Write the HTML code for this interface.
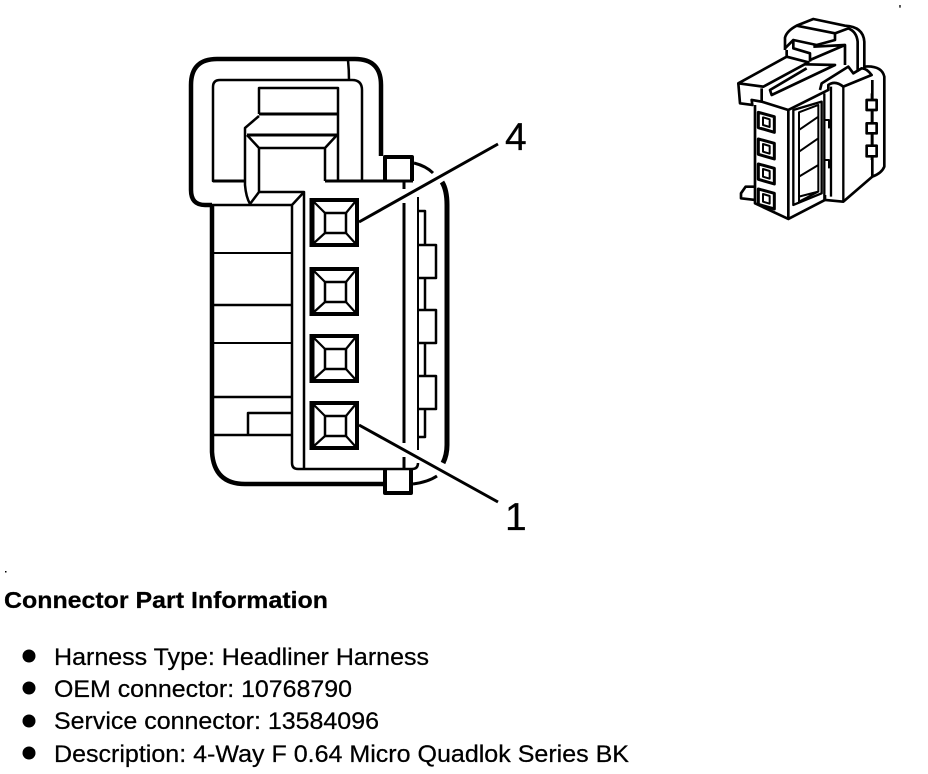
<!DOCTYPE html>
<html><head><meta charset="utf-8"><style>
html,body{margin:0;padding:0;background:#fff;width:928px;height:774px;overflow:hidden}
svg{display:block}
text{font-family:"Liberation Sans",sans-serif;fill:#000;stroke:#000;stroke-width:.25px}
</style></head><body>
<svg width="928" height="774" viewBox="0 0 928 774" xmlns="http://www.w3.org/2000/svg">
<defs>
<g id="t">
<rect x="312" y="2" width="45" height="45" fill="#fff" stroke="#000" stroke-width="4"/>
<path d="M312,0 V49" stroke="#000" stroke-width="5" fill="none"/>
<rect x="325" y="15" width="21" height="20" fill="none" stroke="#000" stroke-width="2.5"/>
<path d="M314,4 L325,15 M355,4 L346,15 M314,45 L325,35 M355,45 L346,35" stroke="#000" stroke-width="2.2" fill="none"/>
</g>
</defs>
<g fill="none" stroke="#000" stroke-linejoin="round">
<path d="M212,205 H205 Q191,205 191,190 V85 Q191,59 217,59 H355 Q381,59 381,85 V156" stroke-width="4.5"/>
<path d="M348,60 Q349,70 349,80" stroke-width="2.5"/>
<path d="M245,181 H213 V87 Q213,80 220,80 H352 Q362,80 362,90 V181" stroke-width="2.5"/>
<path d="M213,181 H245" stroke-width="3"/>
<path d="M259,114 V88 H338 V181" stroke-width="2.5"/>
<path d="M259,114 H338" stroke-width="3"/>
<path d="M259,116 L245,128 V185 Q246,197 250,204 L259,192 V148 H325 V181 M325,148 L337,135 M259,148 L247,135" stroke-width="2.5"/>
<path d="M247,135 H337" stroke-width="3"/>
<path d="M325,181 H413" stroke-width="3"/>
<path d="M259,192 H304 V468" stroke-width="2.5"/>
<path d="M304,192 L292,205 V463 Q292,469 298,469 H412 Q418,469 418,463" stroke-width="2.5"/>
<path d="M212,205 H292" stroke-width="2.5"/>
<path d="M212,205 V452 Q214,484 245,484 H385" stroke-width="4.5"/>
<path d="M212,253 H291" stroke-width="2"/>
<path d="M212,305 H291" stroke-width="2.5"/>
<path d="M212,343 H291" stroke-width="2"/>
<path d="M212,397 H291" stroke-width="2.5"/>
<path d="M212,435 H248 V413 H291 M248,435 H291" stroke-width="2.5"/>
<path d="M404,182 V189 M404,203 V443 M404,457 V468" stroke-width="3"/>
<path d="M418,197 V450" stroke-width="2"/>
<path d="M418,211 H425 V245 M418,245 H436 V278 H418 M425,278 V310 M418,310 H436 V343 H418 M425,343 V376 M418,376 H436 V409 H418 M425,409 V437 H418" stroke-width="2.5"/>
<path d="M414,163 Q426,166 433,173" stroke-width="3"/>
<path d="M442,182 Q447,190 447,205 V445 Q447,455 443,463" stroke-width="5"/>
<path d="M413,484 Q428,482 437,476" stroke-width="3"/>
<path d="M385,181 V157 H412 V181" stroke-width="4"/>
<path d="M385,468 V493 H411 V470" stroke-width="4"/>
</g>
<use href="#t" y="198"/>
<use href="#t" y="267"/>
<use href="#t" y="334"/>
<use href="#t" y="401"/>
<path d="M359,222 L498,144 M359,425 L498,502" stroke="#000" stroke-width="3" fill="none"/>
<text x="505" y="150" font-size="39">4</text>
<text x="505" y="530" font-size="39">1</text>
<g transform="translate(725,5) scale(.3333)" fill="none" stroke="#000" stroke-width="8" stroke-linejoin="round">
<path d="M525,0 V8" stroke-width="4"/>
<path d="M180,135 V98 Q185,78 215,62 L265,42 L360,62 Q415,65 418,110 V195"/>
<path d="M215,62 L330,85 V105 L275,120 L205,105 L180,130"/>
<path d="M330,85 L370,70 Q395,80 398,110 V200"/>
<path d="M205,105 V130 L255,145 V170 M265,125 L360,120 L255,165 M360,120 V180"/>
<path d="M40,235 L185,155 L250,172 L115,245 Z"/>
<path d="M185,135 V155 M240,178 L330,180 L140,270 L135,255 L245,190"/>
<path d="M40,235 L45,295 L82,300 L80,285 L110,290 V250"/>
<path d="M110,290 L190,315 L310,255 V240 Q330,225 355,245 L440,210 Q425,190 410,190 L385,205 L370,185 L290,235 L285,255"/>
<path d="M90,300 V595 L190,642 V315"/>
<path d="M190,642 L300,585 V570 M300,585 L355,590 L442,515"/>
<path d="M205,315 V600 L290,565 V290 Z" stroke-width="7"/>
<path d="M222,322 L280,300 V560 L222,590 Z M222,375 L280,335 M222,440 L280,400 M222,515 L280,480 M222,575 L280,560" stroke-width="6"/>
<path d="M298,265 V585 M318,245 V575 M355,245 V590" stroke-width="7"/>
<path d="M298,345 H312 V370 M298,465 H312 V490" stroke-width="6"/>
<path d="M415,185 Q470,180 478,215 V485 Q470,505 442,515 V225"/>
<path d="M440,265 V465" stroke-width="6"/>
<rect x="425" y="285" width="30" height="30" fill="#fff"/>
<rect x="425" y="355" width="30" height="30" fill="#fff"/>
<rect x="425" y="422" width="30" height="32" fill="#fff"/>
<g stroke-width="9">
<path d="M100,322 L148,335 V382 L100,368 Z M100,402 L148,415 V462 L100,448 Z M100,477 L148,490 V537 L100,523 Z M100,552 L148,565 V612 L100,598 Z"/>
</g>
<g stroke-width="6">
<path d="M114,337 L134,343 V366 L114,360 Z M114,417 L134,423 V446 L114,440 Z M114,492 L134,498 V521 L114,515 Z M114,567 L134,573 V596 L114,590 Z"/>
</g>
<path d="M90,545 L62,545 L48,565 V580 L90,585"/>
</g>
<text x="4" y="608" font-size="23" font-weight="700" textLength="324" lengthAdjust="spacingAndGlyphs">Connector Part Information</text>
<circle cx="29" cy="656" r="6.5"/><circle cx="29" cy="688" r="6.5"/><circle cx="29" cy="721" r="6.5"/><circle cx="29" cy="753" r="6.5"/>
<text x="54" y="665" font-size="24" textLength="375" lengthAdjust="spacingAndGlyphs">Harness Type: Headliner Harness</text>
<text x="54" y="697" font-size="24" textLength="298" lengthAdjust="spacingAndGlyphs">OEM connector: 10768790</text>
<text x="54" y="729" font-size="24" textLength="325" lengthAdjust="spacingAndGlyphs">Service connector: 13584096</text>
<text x="54" y="762" font-size="24" textLength="575" lengthAdjust="spacingAndGlyphs">Description: 4-Way F 0.64 Micro Quadlok Series BK</text>
<rect x="5" y="571" width="1.5" height="1.5"/>
</svg>
</body></html>
